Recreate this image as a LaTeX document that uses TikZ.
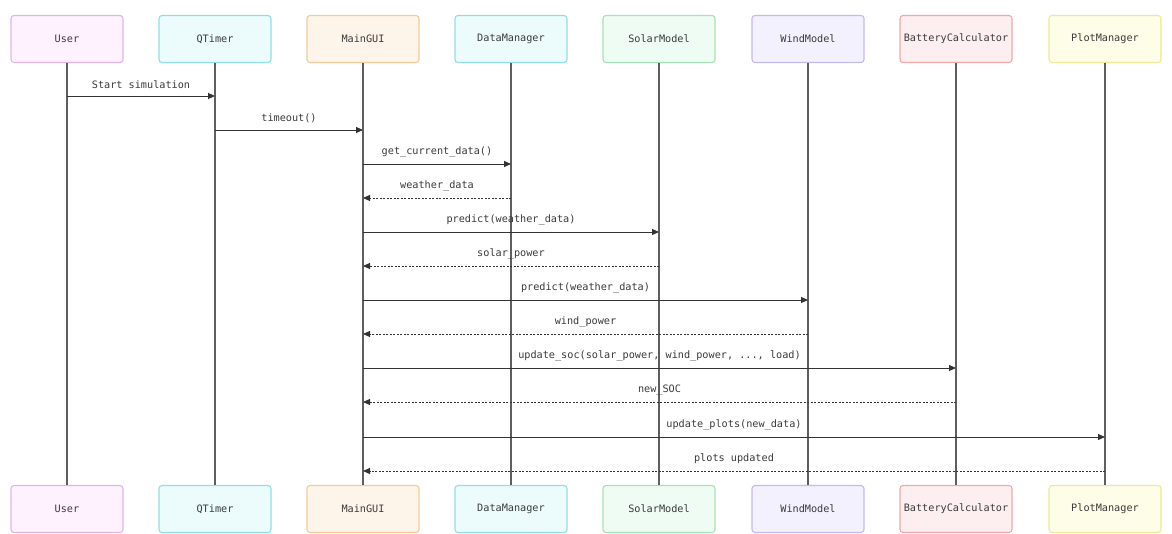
\documentclass[tikz,border=0pt]{standalone}
\usepackage{fontspec}
\setmainfont{DejaVu Sans Mono}
\usetikzlibrary{arrows.meta}
\definecolor{txt}{HTML}{3A3A3A}
\definecolor{life}{HTML}{5E5E5E}
\definecolor{msg}{HTML}{333333}
\definecolor{pinkF}{HTML}{FDF2FD}\definecolor{pinkD}{HTML}{E3B4EC}
\definecolor{cyanF}{HTML}{ECFCFC}\definecolor{cyanD}{HTML}{8EDFE6}
\definecolor{oranF}{HTML}{FEF5EA}\definecolor{oranD}{HTML}{F5C99A}
\definecolor{grenF}{HTML}{EFFCF3}\definecolor{grenD}{HTML}{A5E3B6}
\definecolor{violF}{HTML}{F3F1FD}\definecolor{violD}{HTML}{C4BAEE}
\definecolor{redF}{HTML}{FDEFEF}\definecolor{redD}{HTML}{F0A9AA}
\definecolor{yelF}{HTML}{FEFDE8}\definecolor{yelD}{HTML}{EFE79A}
\tikzset{
  actor/.style={draw=#1D, fill=#1F, line width=1.1pt, rounded corners=3pt,
    minimum width=112pt, minimum height=47pt, inner sep=0pt,
    font=\fontsize{10.2}{12}\selectfont, text=txt},
  lifeline/.style={draw=life, line width=1.2pt},
  call/.style={draw=msg, line width=1pt, -{Triangle[length=7pt,width=6pt]}},
  reply/.style={draw=msg, line width=1pt, dash pattern=on 2pt off 1.5pt, -{Triangle[length=7pt,width=6pt]}},
  lbl/.style={font=\fontsize{10.2}{12}\selectfont, text=txt, inner sep=0pt}
}
\begin{document}
\begin{tikzpicture}[x=1pt,y=-1pt]
\useasboundingbox[fill=white] (0,0) rectangle (1172,533);
% top actors
\node[actor=pink] (u) at (67,39) {User};
\node[actor=cyan] (q) at (215,39) {QTimer};
\node[actor=oran] (m) at (363,39) {MainGUI};
\node[actor=cyan] (d) at (511,39) {DataManager};
\node[actor=gren] (s) at (659,39) {SolarModel};
\node[actor=viol] (w) at (808,39) {WindModel};
\node[actor=red]  (b) at (956,39) {BatteryCalculator};
\node[actor=yel]  (p) at (1105,39) {PlotManager};
% bottom actors
\node[actor=pink] (u2) at (67,509) {User};
\node[actor=cyan] (q2) at (215,509) {QTimer};
\node[actor=oran] (m2) at (363,509) {MainGUI};
\node[actor=cyan] (d2) at (511,509) {DataManager};
\node[actor=gren] (s2) at (659,509) {SolarModel};
\node[actor=viol] (w2) at (808,509) {WindModel};
\node[actor=red]  (b2) at (956,509) {BatteryCalculator};
\node[actor=yel]  (p2) at (1105,509) {PlotManager};
% lifelines
\foreach \a in {u,q,m,d,s,w,b,p}{
  \draw[lifeline] (\a.south) -- (\a2.north);
}
% message anchor coordinates
\coordinate (u1) at (67,96);   \coordinate (q1) at (215,96);
\coordinate (q2c) at (215,130); \coordinate (m2c) at (363,130);
\coordinate (m3) at (363,164); \coordinate (d3) at (511,164);
\coordinate (d4) at (511,198); \coordinate (m4) at (363,198);
\coordinate (m5) at (363,232); \coordinate (s5) at (659,232);
\coordinate (s6) at (659,266); \coordinate (m6) at (363,266);
\coordinate (m7) at (363,300); \coordinate (w7) at (808,300);
\coordinate (w8) at (808,334); \coordinate (m8) at (363,334);
\coordinate (m9) at (363,368); \coordinate (b9) at (956,368);
\coordinate (b10) at (956,402); \coordinate (m10) at (363,402);
\coordinate (m11) at (363,437); \coordinate (p11) at (1105,437);
\coordinate (p12) at (1105,471); \coordinate (m12) at (363,471);
% messages
\draw[call] (u1) -- (q1) node[lbl, midway, above=7pt] {Start simulation};
\draw[call] (q2c) -- (m2c) node[lbl, midway, above=7pt] {timeout()};
\draw[call] (m3) -- (d3) node[lbl, midway, above=7pt] {get\_current\_data()};
\draw[reply] (d4) -- (m4) node[lbl, midway, above=7pt] {weather\_data};
\draw[call] (m5) -- (s5) node[lbl, midway, above=7pt] {predict(weather\_data)};
\draw[reply] (s6) -- (m6) node[lbl, midway, above=7pt] {solar\_power};
\draw[call] (m7) -- (w7) node[lbl, midway, above=7pt] {predict(weather\_data)};
\draw[reply] (w8) -- (m8) node[lbl, midway, above=7pt] {wind\_power};
\draw[call] (m9) -- (b9) node[lbl, midway, above=7pt] {update\_soc(solar\_power, wind\_power, ..., load)};
\draw[reply] (b10) -- (m10) node[lbl, midway, above=7pt] {new\_SOC};
\draw[call] (m11) -- (p11) node[lbl, midway, above=7pt] {update\_plots(new\_data)};
\draw[reply] (p12) -- (m12) node[lbl, midway, above=7pt] {plots updated};
\end{tikzpicture}
\end{document}
